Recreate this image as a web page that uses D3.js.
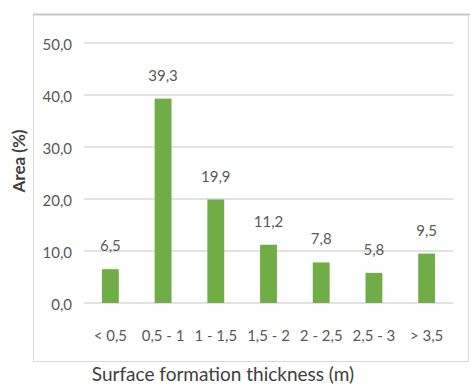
<!DOCTYPE html>
<html>
<head>
<meta charset="utf-8">
<script src="https://cdn.jsdelivr.net/npm/d3@7/dist/d3.min.js"></script>
<style>
  html, body { margin: 0; padding: 0; background: #fff; }
  svg { display: block; }
  text { font-family: Lato, "Open Sans", sans-serif; }
</style>
</head>
<body>
<svg id="chart" width="470" height="387"></svg>
<script>
// Thickness classes and share of area (%)
const categories = ["< 0,5", "0,5 - 1", "1 - 1,5", "1,5 - 2", "2 - 2,5", "2,5 - 3", "> 3,5"];
const areaValues = [6.5, 39.3, 19.9, 11.2, 7.8, 5.8, 9.5];
const yTicks = [0, 10, 20, 30, 40, 50];
const yTitle = "Area (%)";
const xTitle = "Surface formation thickness (m)";

const fmt = v => d3.format(".1f")(v).replace(".", ",");

const svg = d3.select("#chart");

// chart frame
svg.append("rect")
  .attr("x", 33.5).attr("y", 14.5)
  .attr("width", 435).attr("height", 347)
  .attr("fill", "#fff")
  .attr("stroke", "#d9d9d9").attr("stroke-width", 1);
svg.append("line")
  .attr("x1", 33).attr("x2", 470)
  .attr("y1", 14.5).attr("y2", 14.5)
  .attr("stroke", "#c8c8c8").attr("stroke-width", 2);

const plot = { left: 84, right: 453, top: 43, bottom: 303 };

const x = d3.scaleBand()
  .domain(categories)
  .range([plot.left, plot.right])
  .paddingInner(0.68)
  .paddingOuter(0.34);

const y = d3.scaleLinear()
  .domain([0, 50])
  .range([plot.bottom, plot.top]);

// horizontal gridlines
svg.append("g")
  .selectAll("line")
  .data(yTicks)
  .join("line")
  .attr("x1", plot.left).attr("x2", plot.right)
  .attr("y1", d => y(d)).attr("y2", d => y(d))
  .attr("stroke", "#d9d9d9").attr("stroke-width", 1.5);

// y axis labels
const yAxis = d3.axisLeft(y).tickValues(yTicks).tickFormat(fmt).tickSize(0).tickPadding(12);
const gy = svg.append("g").attr("transform", `translate(${plot.left},0)`).call(yAxis);
gy.select(".domain").remove();
gy.selectAll("text")
  .attr("dy", "0.42em")
  .attr("font-size", 15)
  .attr("fill", "#595959")
  .style("font-family", "Lato, sans-serif");

// x axis labels
const xAxis = d3.axisBottom(x).tickSize(0).tickPadding(27);
const gx = svg.append("g").attr("transform", `translate(0,${plot.bottom})`).call(xAxis);
gx.select(".domain").remove();
gx.selectAll("text")
  .attr("font-size", 15)
  .attr("fill", "#595959")
  .style("font-family", "Lato, sans-serif");

// bars
svg.append("g")
  .selectAll("rect")
  .data(areaValues)
  .join("rect")
  .attr("x", (d, i) => x(categories[i]))
  .attr("width", x.bandwidth())
  .attr("y", d => y(d))
  .attr("height", d => y(0) - y(d))
  .attr("fill", "#70ad47");

// value labels
svg.append("g")
  .selectAll("text")
  .data(areaValues)
  .join("text")
  .attr("x", (d, i) => x(categories[i]) + x.bandwidth() / 2)
  .attr("y", d => y(d) - 18)
  .attr("text-anchor", "middle")
  .attr("font-size", 15)
  .attr("fill", "#595959")
  .text(fmt);

// axis titles
svg.append("text")
  .attr("transform", "translate(25,161) rotate(-90)")
  .attr("text-anchor", "middle")
  .attr("font-size", 17)
  .attr("font-weight", "bold")
  .attr("fill", "#404040")
  .text(yTitle);

svg.append("text")
  .attr("x", 223)
  .attr("y", 381)
  .attr("text-anchor", "middle")
  .attr("font-size", 19)
  .attr("fill", "#404040")
  .text(xTitle);
</script>
</body>
</html>
